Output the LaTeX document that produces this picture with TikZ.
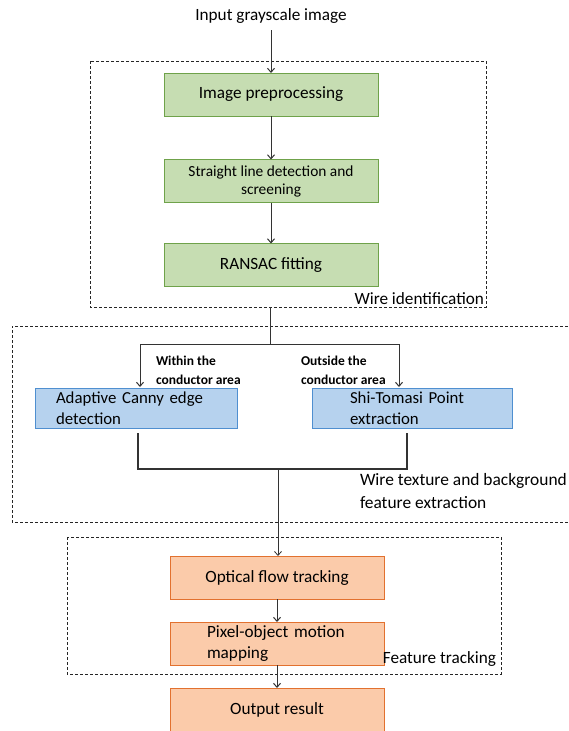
\documentclass[tikz,border=0pt]{standalone}
\usepackage{fontspec}
\setmainfont{Carlito}
\usetikzlibrary{arrows.meta}
\definecolor{gfill}{HTML}{C6DDB2}
\definecolor{gdraw}{HTML}{6FA24A}
\definecolor{bfill}{HTML}{B6D2EE}
\definecolor{bdraw}{HTML}{4F8FD0}
\definecolor{ofill}{HTML}{FBCBAA}
\definecolor{odraw}{HTML}{E2712F}
\begin{document}
\begin{tikzpicture}[x=1pt,y=-1pt,
  every node/.style={inner sep=0pt, outer sep=0pt, font=\fontsize{17.2}{20}\selectfont},
  gbox/.style={draw=gdraw, fill=gfill, line width=0.9pt, minimum width=214pt, minimum height=43pt, align=center},
  bbox/.style={draw=bdraw, fill=bfill, line width=0.9pt, minimum height=40pt, align=left, font=\fontsize{16.8}{21}\selectfont},
  obox/.style={draw=odraw, fill=ofill, line width=0.9pt, minimum width=214pt, minimum height=43pt, font=\fontsize{17.2}{21}\selectfont},
  group/.style={draw=black!85, line width=0.9pt, dash pattern=on 3pt off 2pt},
  flow/.style={draw=black!80, line width=1pt, -{Straight Barb[length=4pt,width=7pt]}},
  wire/.style={draw=black!80, line width=1pt},
  tag/.style={font=\fontsize{13.5}{19}\selectfont\bfseries, align=left}
]
\useasboundingbox (0,0) rectangle (568,731);

% dashed group frames
\draw[group] (90,61) rectangle (486,307);
\draw[group] (568,326) -- (12,326) -- (12,522) -- (568,522);
\draw[group] (67,537) rectangle (501,674);

% title
\node (in) at (271,16) {Input grayscale image};

% wire identification
\node[gbox] (pre) at (271,94.5) {Image preprocessing};
\node[gbox, font=\fontsize{15.4}{18}\selectfont] (sld) at (271,181) {Straight line detection and\\screening};
\node[gbox] (ran) at (271,265) {RANSAC fitting};
\node[anchor=south east] (wid) at (484,305) {Wire identification};

% feature extraction
\node[bbox, text width=160pt, inner xsep=21pt] (can) at (136,408) {Adaptive Canny edge\\detection};
\node[bbox, text width=124pt, inner xsep=38pt] (shi) at (412,408) {Shi-Tomasi Point\\extraction};
\node[tag, anchor=north west] (win) at (156,356) {Within the\\conductor area};
\node[tag, anchor=north west] (out) at (301,356) {Outside the\\conductor area};
\node[anchor=north west, align=left, font=\fontsize{17.4}{23}\selectfont] (wtx) at (360,473) {Wire texture and background\\feature extraction};

% feature tracking
\node[obox] (opt) at (277,577.5) {Optical flow tracking};
\node[obox, text width=140pt, inner xsep=37pt, align=left] (pix) at (277,643.5) {Pixel-object motion\\mapping};
\node[obox] (res) at (277,709.5) {Output result};
\node[anchor=south east] (ftr) at (496,666) {Feature tracking};

% connectors
\coordinate (wout) at (270,307);
\coordinate (fork) at (270,344);
\coordinate (jl) at (138,433);
\coordinate (jr) at (407,433);
\coordinate (jm) at (278,469);

\draw[flow] (in.south |- 0,30) -- (pre);
\draw[flow] (pre) -- (sld);
\draw[flow] (sld) -- (ran);

\draw[wire] (wout) -- (fork);
\draw[flow] (fork) -| (140,387);
\draw[flow] (fork) -| (399,387);

\draw[wire, line width=1.4pt] (jl) |- (jm) -| (jr);
\draw[flow, line width=0.8pt] (jm) -- (jm |- opt.north);

\draw[flow] (opt.south -| 277,0) -- (pix);
\draw[flow] (pix) -- (res);
\end{tikzpicture}
\end{document}
